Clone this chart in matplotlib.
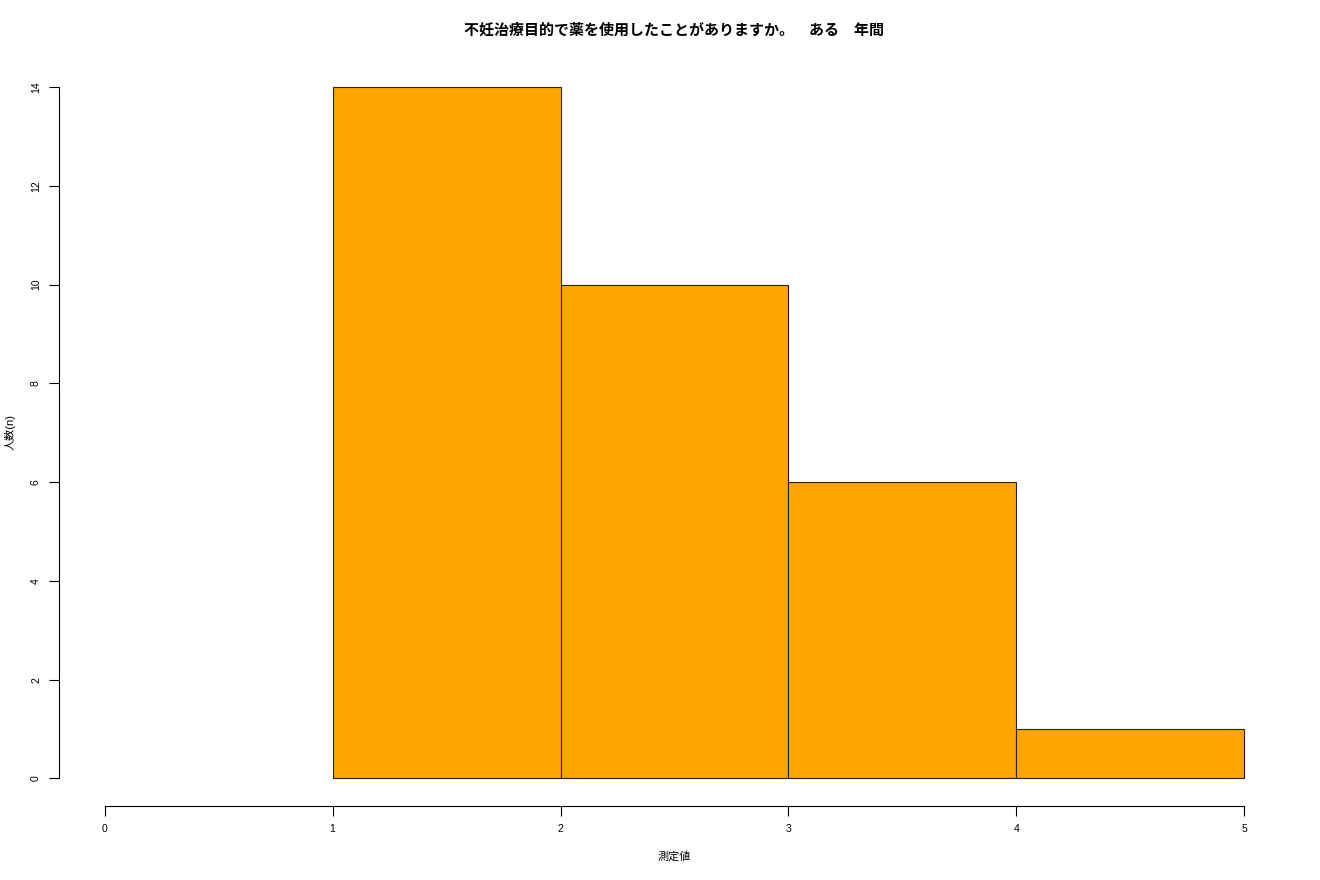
import matplotlib
matplotlib.use("Agg")
import matplotlib.pyplot as plt

plt.rcParams['font.family'] = ['Liberation Sans', 'Noto Sans CJK JP']

# histogram data
bin_edges = [0, 1, 2, 3, 4, 5]
counts = [0, 14, 10, 6, 1]
x_ticks = [0, 1, 2, 3, 4, 5]
y_ticks = [0, 2, 4, 6, 8, 10, 12, 14]
title = "不妊治療目的で薬を使用したことがありますか。　ある　年間"
x_label = "測定値"
y_label = "人数(n)"

fig = plt.figure(figsize=(13.2, 8.8), dpi=100)
ax = fig.add_axes([59 / 1320, 1 - 806 / 880, (1290 - 59) / 1320, (806 - 59.4) / 880])

# empty bins draw nothing, as in R's hist
lefts = [e for e, c in zip(bin_edges[:-1], counts) if c > 0]
heights = [c for c in counts if c > 0]
ax.bar(lefts, heights, width=1, align='edge',
       color='#FFA500', edgecolor='#222222', linewidth=0.8)

ax.set_xlim(-0.2, 5.2)
ax.set_ylim(-0.56, 14.56)

for side in ('top', 'right'):
    ax.spines[side].set_visible(False)
ax.spines['left'].set_bounds(0, 14)
ax.spines['bottom'].set_bounds(0, 5)
ax.spines['left'].set_linewidth(0.8)
ax.spines['bottom'].set_linewidth(0.8)

ax.set_xticks(x_ticks)
ax.set_yticks(y_ticks)
ax.tick_params(direction='out', length=7, width=0.8, labelsize=7.5, pad=6)
for lbl in ax.get_yticklabels():
    lbl.set_rotation(90)
    lbl.set_va('center')

fig.text(674 / 1320, 1 - 857 / 880, x_label, ha='center', va='center', fontsize=8)
fig.text(10 / 1320, 1 - 432 / 880, y_label, ha='center', va='center',
         rotation=90, fontsize=8)
fig.text(674 / 1320, 1 - 30 / 880, title, ha='center', va='center',
         fontsize=10.8, fontweight='bold')

fig.savefig("out.png", dpi=100)
